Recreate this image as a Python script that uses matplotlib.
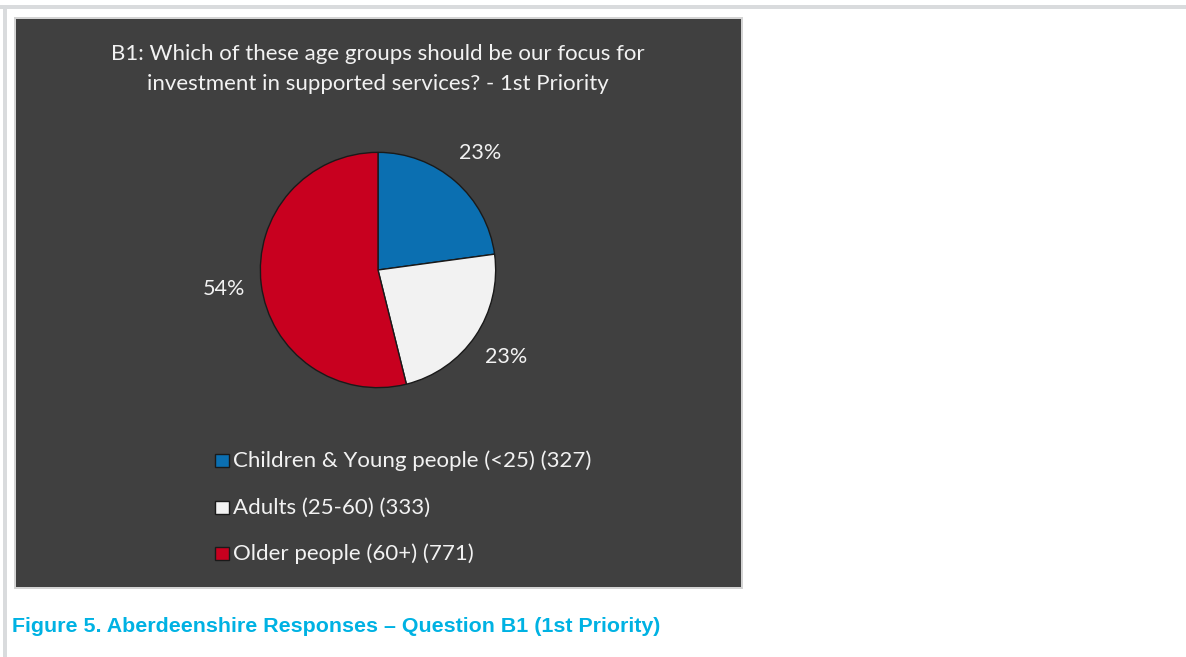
import matplotlib.pyplot as plt
from matplotlib.patches import Rectangle

# Responses to B1 (1st priority)
groups = ["Children & Young people (<25)", "Adults (25-60)", "Older people (60+)"]
counts = [327, 333, 771]
colors = ["#0b6fb1", "#f2f2f2", "#c8001f"]

title_lines = ["B1: Which of these age groups should be our focus for",
               "investment in supported services? - 1st Priority"]
caption = "Figure 5. Aberdeenshire Responses \u2013 Question B1 (1st Priority)"

W, H = 1186, 657
fig = plt.figure(figsize=(W / 100, H / 100), dpi=100)
fig.patch.set_facecolor("white")

# page background: frame lines and the dark chart panel, in pixel units
bg = fig.add_axes([0, 0, 1, 1])
bg.set_xlim(0, W)
bg.set_ylim(H, 0)
bg.axis("off")
bg.add_patch(Rectangle((0, 5), W, 3.5, color="#d9dbdd", lw=0))
bg.add_patch(Rectangle((3, 5), 3.5, H, color="#d9dbdd", lw=0))
bg.add_patch(Rectangle((14, 17), 729, 572, color="#d4d4d4", lw=0))
bg.add_patch(Rectangle((16, 19), 725, 568, color="#404040", lw=0))

font = "Lato"
txt = "#f2f2f2"
for i, line in enumerate(title_lines):
    bg.text(378, 60 + 30 * i, line, ha="center", va="baseline", color=txt,
            fontsize=16, family=font)

# pie
cx, cy, r = 378, 270, 120
ax = fig.add_axes([(cx - r) / W, (H - cy - r) / H, 2 * r / W, 2 * r / H])
wedges, _, pct = ax.pie(counts, colors=colors, startangle=90, counterclock=False,
                        autopct=lambda p: f"{p:.0f}%", pctdistance=1.32,
                        wedgeprops=dict(edgecolor="#1a1a1a", linewidth=1))
for t in pct:
    t.set_color(txt)
    t.set_fontsize(15.5)
    t.set_family(font)
ax.set_xlim(-1.02, 1.02)
ax.set_ylim(-1.02, 1.02)
ax.set_aspect("equal")

# legend rows: swatch + label with count
for i, (g, c, col) in enumerate(zip(groups, counts, colors)):
    base = 467 + 46.5 * i
    bg.add_patch(Rectangle((215, base - 13), 14, 13, facecolor=col,
                           edgecolor="#1a1a1a", lw=1))
    bg.text(233, base, f"{g} ({c})", ha="left", va="baseline", color=txt,
            fontsize=16, family=font)

bg.text(12, 632, caption, ha="left", va="baseline", color="#00b2e3", fontsize=15.4,
        family="Liberation Sans", fontweight="bold")

fig.savefig("out.png", dpi=100)
